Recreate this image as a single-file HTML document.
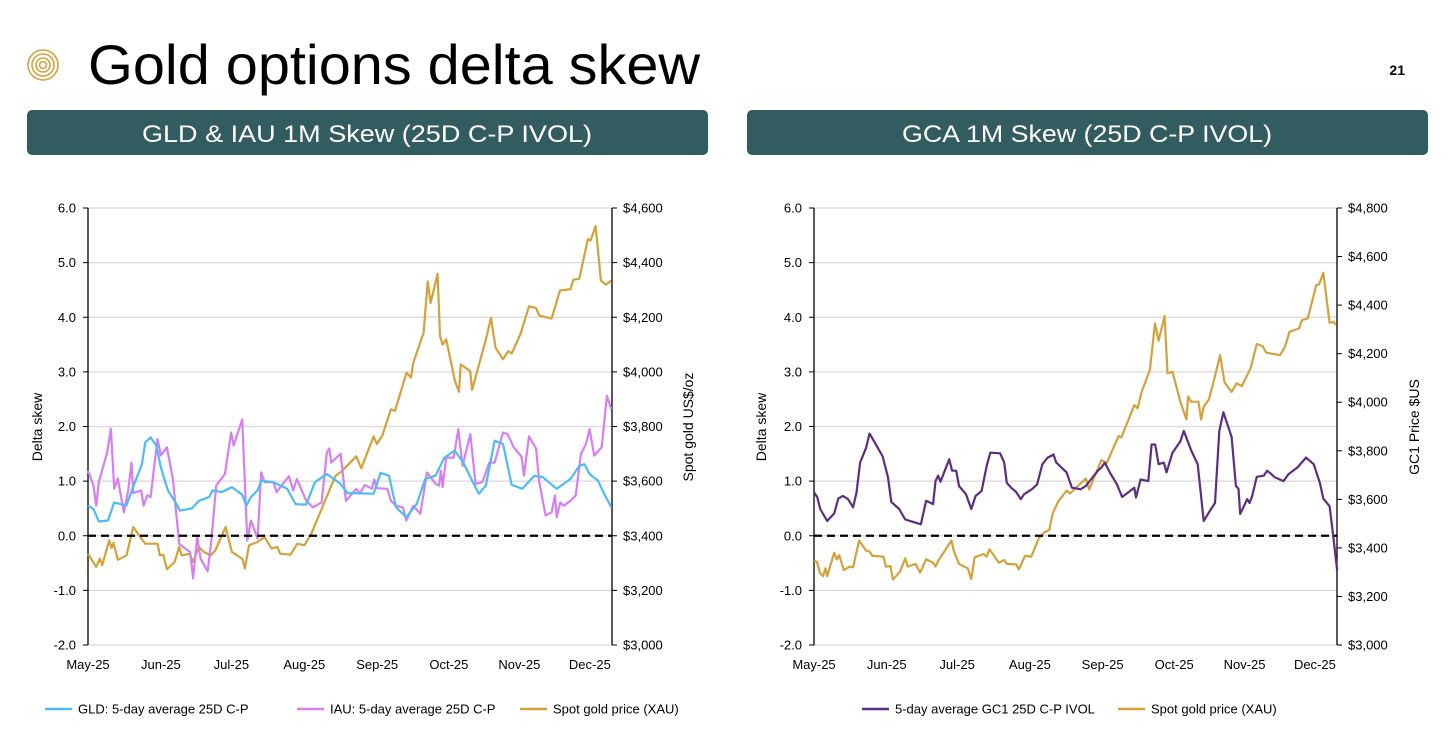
<!DOCTYPE html>
<html><head><meta charset="utf-8"><style>
html,body{margin:0;padding:0;background:#fff;width:1456px;height:747px;overflow:hidden}
svg{display:block;font-family:"Liberation Sans",sans-serif}
</style></head><body>
<svg id="page" width="1456" height="747" viewBox="0 0 1456 747">
<g fill="none" stroke="#d4a23a" stroke-width="1.6">
<circle cx="43" cy="65" r="15"/><circle cx="43" cy="65" r="11"/><circle cx="43" cy="65" r="7"/><circle cx="43" cy="65" r="3.5"/>
</g>
<text x="88" y="84" font-size="56" textLength="612" lengthAdjust="spacingAndGlyphs" fill="#000">Gold options delta skew</text>
<text x="1405" y="75" font-size="14" font-weight="bold" text-anchor="end">21</text>
<rect x="27" y="110" width="681" height="45" rx="5" fill="#335c61"/>
<text x="367" y="142" font-size="24" fill="#fff" text-anchor="middle" textLength="450" lengthAdjust="spacingAndGlyphs">GLD &amp; IAU 1M Skew (25D C-P IVOL)</text>
<rect x="747" y="110" width="681" height="45" rx="5" fill="#335c61"/>
<text x="1087" y="142" font-size="24" fill="#fff" text-anchor="middle" textLength="370" lengthAdjust="spacingAndGlyphs">GCA 1M Skew (25D C-P IVOL)</text>
<g id="left"></g><g id="right"></g>
</svg>
<script>
const monthLabels=["May-25","Jun-25","Jul-25","Aug-25","Sep-25","Oct-25","Nov-25","Dec-25"];
const monthDays=[0,30.3,59.6,89.9,120.2,150,179.3,208.6];
const skewTicks=[-2,-1,0,1,2,3,4,5,6];
const leftPriceTicks=[3000,3200,3400,3600,3800,4000,4200,4400,4600];
const rightPriceTicks=[3000,3200,3400,3600,3800,4000,4200,4400,4600,4800];

const leftGoldDays=[0,3.4,4.9,5.9,8.8,9.8,10.6,12.4,16,18.8,22.4,23.8,28.9,29.9,31.3,32.8,36,37.9,38.9,42.2,43.7,46.1,48.3,50.9,52.9,57.2,59.8,64.1,65.2,66.9,70.5,73.4,76.3,78.7,79.9,84.2,87,89.9,92.8,95.7,100,102.9,105.7,111.5,113.6,118.7,120.1,122.3,125.9,127.6,132.4,134.2,135.2,139.5,141.2,142.4,145.3,146.3,147.4,148.9,152.5,154.2,154.9,158.9,159.6,161.1,165.4,167.5,169.4,172.5,174.7,176.1,179.7,183.3,186.2,187.6,192.7,196.2,200.6,201.7,204.2,207.8,208.9,211,213.2,215.2,217.5];
const leftGoldPrice=[3334,3286,3316,3292,3383,3355,3374,3312,3328,3432,3387,3371,3371,3328,3331,3277,3304,3359,3328,3334,3304,3359,3340,3328,3346,3432,3340,3316,3280,3365,3377,3395,3353,3359,3334,3331,3371,3365,3407,3468,3559,3620,3638,3691,3647,3764,3736,3766,3863,3857,3997,3979,4034,4143,4331,4252,4359,4131,4100,4119,3967,3927,4027,4003,3934,3981,4119,4198,4088,4046,4076,4067,4137,4240,4234,4206,4195,4298,4303,4337,4341,4486,4481,4534,4335,4319,4334];
const gldDays=[0,2.3,4.5,8.3,10.9,15.9,20.3,22.4,23.8,26,28.4,30.3,33.2,36.8,38.2,43.2,46.1,50.4,51.8,55.5,59.8,64.1,65.8,67.7,70.5,72,77,82.8,86.3,90.7,94.3,99.3,105,107.9,118.7,121.6,125.1,128,132.3,136.6,140.2,144.5,148.1,152.4,156,160.3,162.5,165.4,169,172.5,176.1,180.5,185.5,189.1,194.8,200.6,204.2,206.3,208.5,212,214.2,217.5];
const gldVals=[0.55,0.49,0.26,0.28,0.61,0.55,1.07,1.31,1.71,1.80,1.65,1.25,0.83,0.58,0.46,0.50,0.64,0.71,0.83,0.80,0.89,0.75,0.55,0.71,0.83,1.01,0.98,0.86,0.58,0.57,0.98,1.13,0.95,0.78,0.77,1.15,1.10,0.52,0.34,0.58,1.04,1.10,1.43,1.56,1.34,0.95,0.77,0.92,1.74,1.68,0.93,0.86,1.10,1.07,0.86,1.04,1.28,1.31,1.13,1.01,0.80,0.52];
const iauDays=[0,2.3,3.4,4.5,8,9.5,10.9,12.4,14.9,16.7,18.1,18.8,22.1,23.1,24.6,26,28.9,30.3,32.8,35.3,37.9,42.5,43.7,45.4,46.8,49.7,51.2,53.3,56.9,59.5,60.5,64.1,66.2,67.7,70.5,72,73.4,77,78.4,83.5,85.3,86.8,90.7,93.5,97.1,99.3,100.3,101.1,105,107.2,111.5,112.9,115.1,118,119,120.1,124.4,125.9,128,130.9,132.3,135.2,138.1,140.9,144.5,145.9,146.7,147.4,148.9,152,153.9,155.7,158.9,161.1,163.9,166.8,169,172.5,174.4,176.9,180.2,181.2,183.3,186.2,187.6,190.2,192.7,194.1,194.8,196.3,197.7,200.6,202.7,204.9,207,208.5,210.4,213.5,215.7,217.5];
const iauVals=[1.19,0.92,0.55,0.98,1.53,1.96,0.86,1.05,0.43,0.83,1.34,0.78,0.83,0.55,0.74,0.71,1.77,1.47,1.62,1.04,-0.15,-0.30,-0.78,-0.02,-0.42,-0.65,-0.12,0.92,1.13,1.89,1.65,2.13,-0.09,0.28,-0.05,1.16,0.98,0.98,0.80,1.09,0.83,1.04,0.64,0.52,0.61,1.53,1.60,1.34,1.50,0.64,0.86,0.77,0.93,0.86,1.03,0.87,0.86,0.64,0.55,0.52,0.28,0.55,0.40,1.16,0.95,0.92,1.19,0.89,1.43,1.43,1.95,1.28,1.86,0.95,0.98,1.34,1.34,1.89,1.86,1.62,1.45,1.10,1.82,1.60,0.98,0.37,0.43,0.74,0.34,0.61,0.55,0.64,0.74,1.50,1.68,1.95,1.47,1.62,2.56,2.32];

const rightGoldDays=[0,1.2,2.6,3.8,4.8,5.5,8.4,9.5,10.5,12.4,14.9,16.3,18.8,21.7,23.1,24.3,28.9,30,31.8,32.9,35.8,38,39,42.3,44.2,46.7,49.6,50.6,51.7,57.2,58.3,60.4,64,65.5,66.9,70.5,71.9,73.1,77,79.2,80.3,84.2,85.3,87.9,90.5,93.6,95.8,98,99.4,101.6,105.2,106.6,113.2,114.6,119.7,121.8,126.9,128,133.4,134.8,136.3,139.9,142,143.5,146,147.2,149.3,152.6,155.1,155.8,157,160.1,161.2,162.3,164.5,167.3,169.1,171,173.9,176,178.2,181.8,184.4,186.8,188.3,194.1,196.2,198,202,203.2,205.6,209.2,210.4,212.1,214.7,216.5,217.2];
const rightGoldPrice=[3347,3343,3295,3284,3316,3284,3380,3352,3370,3309,3323,3320,3430,3389,3385,3367,3364,3323,3325,3270,3302,3357,3323,3334,3298,3353,3339,3323,3346,3430,3385,3334,3316,3272,3361,3375,3364,3394,3339,3350,3334,3332,3312,3367,3364,3440,3463,3474,3542,3590,3636,3624,3686,3641,3762,3748,3861,3855,3988,3975,4039,4133,4325,4253,4355,4119,4125,4002,3929,4023,4002,4002,3929,3981,4012,4119,4194,4081,4043,4078,4067,4140,4240,4231,4204,4194,4229,4290,4304,4338,4345,4482,4486,4533,4327,4331,4318];
const gc1Days=[0,1.4,2.6,5.5,8.4,10.1,12,14.2,16.3,17.7,19.2,21.7,23.1,24.6,28.6,30.8,32.2,35.5,38,44.5,46.7,49.6,50.6,51.7,52.7,56.3,57.5,59.2,60.4,63.3,65.5,67.3,69.8,71.9,73.4,77.5,79.2,80.3,82.1,84.2,86.1,87.5,90.7,92.9,95.1,97.3,98.7,99.7,100.9,105.2,107.4,111,113.2,115.3,118.2,119.7,121.1,123.2,126.2,128.3,133.4,134.1,136,139.2,140.6,142.1,143.5,145.7,146.8,149.3,152.6,154,157.2,159.8,162.3,164.5,167,168.8,170.5,173.9,175.7,176.8,177.5,180.4,181.4,182.5,184.4,187.3,188.7,190.2,191.9,195.5,197.7,201.3,204.9,208.1,210.7,212.1,214.7,216.2,217.9];
const gc1Vals=[0.80,0.70,0.49,0.27,0.41,0.68,0.73,0.67,0.52,0.79,1.34,1.61,1.87,1.76,1.45,1.07,0.62,0.49,0.30,0.21,0.64,0.58,1.00,1.10,0.99,1.40,1.19,1.19,0.91,0.76,0.49,0.73,0.82,1.28,1.52,1.51,1.34,0.97,0.88,0.80,0.67,0.76,0.85,0.94,1.31,1.43,1.46,1.49,1.34,1.16,0.88,0.85,0.91,1.03,1.19,1.25,1.34,1.16,0.94,0.71,0.88,0.70,1.03,1.00,1.67,1.67,1.31,1.34,1.16,1.52,1.73,1.92,1.55,1.31,0.27,0.43,0.60,1.92,2.26,1.81,0.91,0.86,0.40,0.67,0.60,0.73,1.08,1.10,1.19,1.14,1.07,1.00,1.13,1.25,1.43,1.31,0.96,0.68,0.54,0.0,-0.64];

const NS="http://www.w3.org/2000/svg";
function mk(parent,tag,attrs,text){const e=document.createElementNS(NS,tag);for(const k in attrs)e.setAttribute(k,attrs[k]);if(text!==undefined)e.textContent=text;parent.appendChild(e);return e;}

function drawChart(g,x0,x1,priceTicks,yRightTitle,skewSeries,goldDays,goldPrice,legendItems,yLeftTitleX,yRightTitleX){
  const yTop=208,yBot=645,dMax=217.8;
  const xs=d=>x0+d*(x1-x0)/dMax;
  const ys=v=>yBot-(v-skewTicks[0])*(yBot-yTop)/(skewTicks[skewTicks.length-1]-skewTicks[0]);
  const pMin=priceTicks[0],pMax=priceTicks[priceTicks.length-1];
  const yp=p=>yBot-(p-pMin)*(yBot-yTop)/(pMax-pMin);
  skewTicks.forEach(t=>{
    const l=mk(g,'line',{x1:x0,x2:x1,y1:ys(t),y2:ys(t),stroke:'#d9d9d9','stroke-width':1.3});
    
    
    const tk=mk(g,'line',{x1:x0-5,x2:x0,y1:ys(t),y2:ys(t),stroke:'#000','stroke-width':1});
    
    
    const tx=mk(g,'text',{x:x0-12,y:ys(t)+4.5,'font-size':13,'text-anchor':'end',fill:'#000'},t.toFixed(1));
    
    
  });
  priceTicks.forEach(p=>{
    const tk=mk(g,'line',{x1:x1,x2:x1+5,y1:yp(p),y2:yp(p),stroke:'#000','stroke-width':1});
    
    
    const tx=mk(g,'text',{x:x1+11,y:yp(p)+4.5,'font-size':13,fill:'#000'},'$'+p.toLocaleString('en-US'));
    
    
  });
  const la=mk(g,'line',{x1:x0,x2:x0,y1:yTop,y2:yBot,stroke:'#000','stroke-width':1.3});
  
  
  const ra=mk(g,'line',{x1:x1,x2:x1,y1:yTop,y2:yBot,stroke:'#000','stroke-width':1.3});
  
  
  monthLabels.forEach((m,i)=>{
    const tx=mk(g,'text',{x:xs(monthDays[i]),y:669,'font-size':13,'text-anchor':'middle'},m);
    
    
  });
  const yl=mk(g,'text',{x:yLeftTitleX,y:427,'font-size':14,'text-anchor':'middle',transform:`rotate(-90 ${yLeftTitleX} 427)`},'Delta skew');
  
  
  const yr=mk(g,'text',{x:yRightTitleX,y:427,'font-size':14,'text-anchor':'middle',transform:`rotate(-90 ${yRightTitleX} 427)`},yRightTitle);
  
  
  const gp=mk(g,'polyline',{points:goldDays.map((d,i)=>xs(d).toFixed(1)+','+yp(goldPrice[i]).toFixed(1)).join(' '),fill:'none',stroke:'#d4a23a','stroke-width':2.2,'stroke-linejoin':'round'});
  
  
  skewSeries.forEach(s=>{
    const pl=mk(g,'polyline',{points:s.days.map((d,i)=>xs(d).toFixed(1)+','+ys(s.vals[i]).toFixed(1)).join(' '),fill:'none',stroke:s.color,'stroke-width':2.2,'stroke-linejoin':'round'});
    
    
  });
  const z=mk(g,'line',{x1:x0,x2:x1,y1:ys(0),y2:ys(0),stroke:'#000','stroke-width':2.2,'stroke-dasharray':'8,5'});
  
  
  legendItems.forEach(it=>{
    const lg=mk(g,'g',{});
    
    
    mk(lg,'line',{x1:it.x,x2:it.x+27,y1:709,y2:709,stroke:it.color,'stroke-width':2.5});
    mk(lg,'text',{x:it.x+33,y:713.5,'font-size':13},it.label);
  });
}
drawChart(document.getElementById('left'),88,612,leftPriceTicks,'Spot gold US$/oz',
  [{days:iauDays,vals:iauVals,color:'#d67ff3',name:'iau-skew-line'},{days:gldDays,vals:gldVals,color:'#4dbcf2',name:'gld-skew-line'}],
  leftGoldDays,leftGoldPrice,
  [{x:45,color:'#4dbcf2',label:'GLD: 5-day average 25D C-P'},{x:297,color:'#d67ff3',label:'IAU: 5-day average 25D C-P'},{x:520,color:'#d4a23a',label:'Spot gold price (XAU)'}],42,693);
drawChart(document.getElementById('right'),814,1337,rightPriceTicks,'GC1 Price $US',
  [{days:gc1Days,vals:gc1Vals,color:'#5c2d82',name:'gc1-skew-line'}],
  rightGoldDays,rightGoldPrice,
  [{x:862,color:'#5c2d82',label:'5-day average GC1 25D C-P IVOL'},{x:1118,color:'#d4a23a',label:'Spot gold price (XAU)'}],766,1419);
</script>
</body></html>
